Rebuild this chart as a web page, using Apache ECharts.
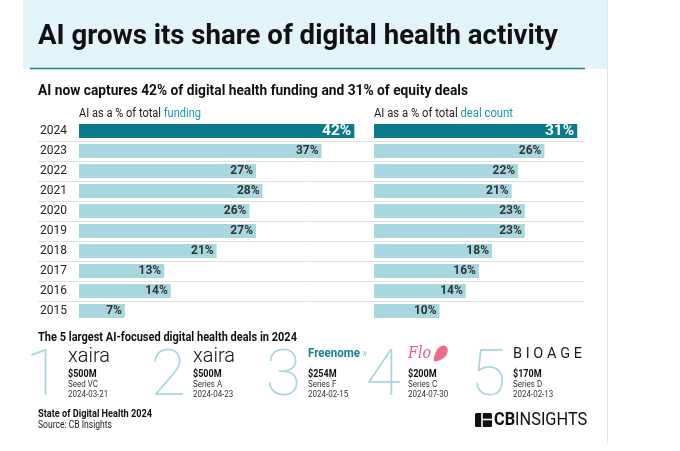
<!DOCTYPE html>
<html>
<head>
<meta charset="utf-8">
<script src="https://cdn.jsdelivr.net/npm/echarts@6/dist/echarts.min.js"></script>
<style>
html,body{margin:0;padding:0;background:#fff;}
#chart{width:680px;height:451px;}
</style>
</head>
<body>
<div id="chart"></div>
<script>
// ---- data ----
const years = ['2024','2023','2022','2021','2020','2019','2018','2017','2016','2015'];
const fundingShare = [42,37,27,28,26,27,21,13,14,7];
const dealShare = [31,26,22,21,23,23,18,16,14,10];
const dealRanks = ['1','2','3','4','5'];
const dealCompanies = ['xaira','xaira','Freenome','Flo','BIOAGE'];
const dealAmounts = ['$500M','$500M','$254M','$200M','$170M'];
const dealRounds = ['Seed VC','Series A','Series F','Series C','Series D'];
const dealDates = ['2024-03-21','2024-04-23','2024-02-15','2024-07-30','2024-02-13'];
const titleText = 'AI grows its share of digital health activity';
const subtitleText = 'AI now captures 42% of digital health funding and 31% of equity deals';
const leftLabel = ['AI as a % of total ', 'funding'];
const rightLabel = ['AI as a % of total ', 'deal count'];
const dealsHeading = 'The 5 largest AI-focused digital health deals in 2024';
const footer1 = 'State of Digital Health 2024';
const footer2 = 'Source: CB Insights';

// ---- style ----
const FF = 'Roboto';
const DARK = '#0b7a8b';
const LIGHT = '#a9d7df';
const TEAL_TXT = '#1b96aa';
const RANK = '#a9d6df';

const cv = document.createElement('canvas').getContext('2d');
function mw(text, font){ cv.font = font; return cv.measureText(text).width; }
function fnt(size, weight, style){ return (style||'normal') + ' ' + (weight||'normal') + ' ' + size + 'px ' + FF; }

const graphics = [];
function txt(x, y, text, size, weight, color, opts){
  opts = opts || {};
  const font = (opts.style||'normal') + ' ' + (weight||'normal') + ' ' + size + 'px ' + (opts.family||FF);
  let sx = opts.scale || 1;
  if (opts.width) sx = opts.width / mw(text, font);
  graphics.push({type:'text', x:x, y:y, scaleX:sx, z:10,
    style:{text:text, font:font, fill:color, align:opts.align||'left', verticalAlign:'middle'}});
  return mw(text, font) * sx;
}
function twoPart(x, y, parts, size, color2, totalWidth){
  const f = fnt(size, 'normal');
  const s = totalWidth / mw(parts[0] + parts[1], f);
  const wa = txt(x, y, parts[0], size, 'normal', '#222', {scale:s});
  txt(x + wa, y, parts[1], size, 'normal', color2, {scale:s});
}

// header
graphics.push({type:'rect', z:-1, shape:{x:23,y:0,width:584,height:69}, style:{fill:'#e3f4f8'}});
graphics.push({type:'line', z:1, shape:{x1:607.5,y1:0,x2:607.5,y2:443}, style:{stroke:'#e4e4e4',lineWidth:1}});
graphics.push({type:'line', z:1, shape:{x1:30,y1:68.5,x2:585,y2:68.5}, style:{stroke:'#1d7f8f',lineWidth:1.6}});
txt(38, 37, titleText, 28, 'bold', '#111', {width:520});
txt(38, 91, subtitleText, 15, 'bold', '#111', {width:430});

// panel labels
twoPart(79, 114, leftLabel, 12.5, TEAL_TXT, 122);
twoPart(374, 114, rightLabel, 12.5, TEAL_TXT, 139);

// deals section
txt(38, 338, dealsHeading, 13, 'bold', '#111', {width:259});
const colX = [68, 193, 308, 408, 513];
for (let i = 0; i < 5; i++) {
  txt(colX[i] - 7, 379, dealRanks[i], 65, 100, RANK, {align:'right'});
  txt(colX[i], 385, dealRounds[i], 9.5, 'normal', '#333', {scale:0.84});
  txt(colX[i], 395, dealDates[i], 9.5, 'normal', '#333', {scale:0.84});
  txt(colX[i], 374, dealAmounts[i], 10.5, 'bold', '#111', {scale:0.86});
}
// company logos (as text)
txt(colX[0], 357, dealCompanies[0], 21, 300, '#111', {scale:0.95});
txt(colX[1], 357, dealCompanies[1], 21, 300, '#111', {scale:0.95});
let wf = txt(colX[2], 354, dealCompanies[2], 12.5, 'bold', '#1b8092', {width:52});
txt(colX[2] + wf + 2, 354, '»', 12, 'normal', '#8cc8d1');
txt(colX[3], 354, dealCompanies[3], 17, 'normal', '#ef5a7c', {style:'italic', family:'DejaVu Serif', width:23});
graphics.push({type:'polygon', z:10, shape:{smooth:0.35, points:[[434,361],[435.5,353],[439,347.5],[444,345.5],[447.5,348.5],[446.5,355],[441,359.5]]}, style:{fill:'#f06a8a'}});
(function(){
  const word = dealCompanies[4];
  const f = fnt(14.5, 'normal');
  let sum = 0; const ws = [];
  for (const ch of word) { const w = mw(ch, f); ws.push(w); sum += w; }
  const gap = (69 - sum) / (word.length - 1);
  let x = colX[4];
  [...word].forEach((ch, k) => { txt(x, 354, ch, 14.5, 'normal', '#1a1a1a'); x += ws[k] + gap; });
})();

// footer
txt(38, 414, footer1, 10.5, 'bold', '#111', {width:114});
txt(38, 425, footer2, 10.5, 'normal', '#222', {width:74});
// CB Insights logo
graphics.push({type:'rect', z:10, shape:{x:475,y:413,width:17,height:14,r:1.5}, style:{fill:'#111'}});
graphics.push({type:'line', z:11, shape:{x1:482,y1:413,x2:482,y2:427}, style:{stroke:'#fff',lineWidth:1.6}});
graphics.push({type:'line', z:11, shape:{x1:482,y1:419.5,x2:492,y2:419.5}, style:{stroke:'#fff',lineWidth:1.6}});
let wcb = txt(494, 420.5, 'CB', 19, 'bold', '#111', {scale:0.86});
txt(494 + wcb, 420.5, 'INSIGHTS', 19, 'normal', '#111', {scale:0.86});

function barData(vals){
  return vals.map((v, i) => i === 0 ? {
    value: v,
    itemStyle: {color: DARK},
    label: {color: '#fff', fontSize: 15.5, fontWeight: 'bold'}
  } : v);
}

const chart = echarts.init(document.getElementById('chart'), null, {renderer:'canvas'});
chart.setOption({
  animation: false,
  backgroundColor: '#fff',
  textStyle: {fontFamily: FF},
  grid: [
    {left: 38, top: 121, width: 547, height: 200},
    {left: 79, top: 121, width: 295, height: 200},
    {left: 374, top: 121, width: 295, height: 200}
  ],
  xAxis: [
    {gridIndex: 0, type: 'value', show: false, min: 0, max: 1},
    {gridIndex: 1, type: 'value', show: false, min: 0, max: 45},
    {gridIndex: 2, type: 'value', show: false, min: 0, max: 45}
  ],
  yAxis: [
    {gridIndex: 0, type: 'category', data: years, inverse: true,
     axisLine: {show: false}, axisTick: {show: false},
     splitLine: {show: true, showMinLine: false, showMaxLine: false, lineStyle: {color: '#e2e2e2', width: 1}},
     axisLabel: {inside: true, margin: 2, color: '#222', fontSize: 12, fontFamily: FF}},
    {gridIndex: 1, type: 'category', data: years, inverse: true, show: false},
    {gridIndex: 2, type: 'category', data: years, inverse: true, show: false}
  ],
  series: [
    {type: 'bar', name: 'funding', xAxisIndex: 1, yAxisIndex: 1, data: barData(fundingShare),
     barWidth: 14, itemStyle: {color: LIGHT},
     label: {show: true, position: 'insideRight', distance: 3, formatter: '{c}%', color: '#333', fontSize: 12, fontWeight: 'bold', fontFamily: FF}},
    {type: 'bar', name: 'deal count', xAxisIndex: 2, yAxisIndex: 2, data: barData(dealShare),
     barWidth: 14, itemStyle: {color: LIGHT},
     label: {show: true, position: 'insideRight', distance: 3, formatter: '{c}%', color: '#333', fontSize: 12, fontWeight: 'bold', fontFamily: FF}}
  ],
  graphic: graphics
});
</script>
</body>
</html>
